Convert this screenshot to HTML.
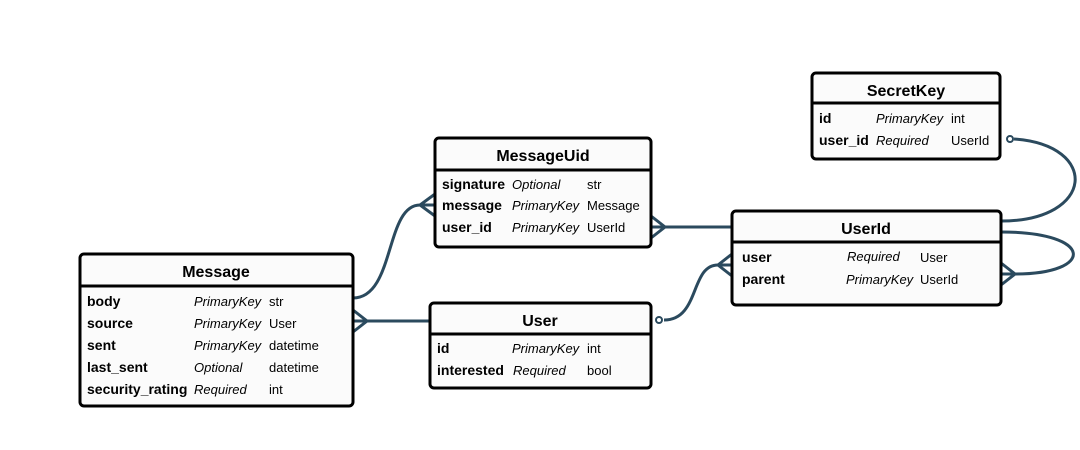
<!DOCTYPE html>
<html><head><meta charset="utf-8"><style>
html,body{margin:0;padding:0;background:#fff;}
svg{display:block;font-family:"Liberation Sans",sans-serif;}
.b{fill:#fbfbfb;stroke:#000;stroke-width:3;}
.h{font-weight:bold;font-size:16px;text-anchor:middle;fill:#000;}
.f{font-weight:bold;font-size:14px;fill:#000;}
.k{font-style:italic;font-size:13px;fill:#000;}
.t{font-size:13px;fill:#000;}
.c{fill:none;stroke:#2b4a5e;stroke-width:3;}
.d{stroke:#000;stroke-width:3;}
</style></head><body>
<svg width="1080" height="450" viewBox="0 0 1080 450">
<!-- connectors -->
<path class="c" d="M353 298 C395 298 385 205 420 205 H435"/>
<path class="c" d="M435 194 L420 205 L435 216"/>
<path class="c" d="M353 321 H430"/>
<path class="c" d="M353 310 L367 321 L353 332"/>
<path class="c" d="M651 227 H732"/>
<path class="c" d="M651 216 L665 227 L651 238"/>
<path class="c" d="M664 320 C700 320 690 265 718 265 H732"/>
<path class="c" d="M732 254 L718 265 L732 276"/>
<circle cx="659" cy="320" r="3" fill="#fff" stroke="#2b4a5e" stroke-width="2"/>
<path class="c" d="M1014 139 C1100 145 1095 221 1001 221"/>
<circle cx="1010" cy="139" r="3" fill="#fff" stroke="#2b4a5e" stroke-width="2"/>
<path class="c" d="M1001 232 C1095 232 1095 274 1015 274 H1001"/>
<path class="c" d="M1001 263 L1015 274 L1001 285"/>

<!-- SecretKey -->
<rect class="b" x="812" y="73" width="188" height="86" rx="4"/>
<line class="d" x1="812" y1="103" x2="1000" y2="103"/>
<text class="h" x="906" y="96">SecretKey</text>
<text class="f" x="819" y="123">id</text><text class="k" x="876" y="123">PrimaryKey</text><text class="t" x="951" y="123">int</text>
<text class="f" x="819" y="145">user_id</text><text class="k" x="876" y="145">Required</text><text class="t" x="951" y="145">UserId</text>

<!-- MessageUid -->
<rect class="b" x="435" y="138" width="216" height="109" rx="4"/>
<line class="d" x1="435" y1="170" x2="651" y2="170"/>
<text class="h" x="543" y="161">MessageUid</text>
<text class="f" x="442" y="189">signature</text><text class="k" x="512" y="189">Optional</text><text class="t" x="587" y="189">str</text>
<text class="f" x="442" y="210">message</text><text class="k" x="512" y="210">PrimaryKey</text><text class="t" x="587" y="210">Message</text>
<text class="f" x="442" y="232">user_id</text><text class="k" x="512" y="232">PrimaryKey</text><text class="t" x="587" y="232">UserId</text>

<!-- UserId -->
<rect class="b" x="732" y="211" width="269" height="94" rx="4"/>
<line class="d" x1="732" y1="242" x2="1001" y2="242"/>
<text class="h" x="866" y="234">UserId</text>
<text class="f" x="742" y="262">user</text><text class="k" x="847" y="261">Required</text><text class="t" x="920" y="262">User</text>
<text class="f" x="742" y="284">parent</text><text class="k" x="846" y="284">PrimaryKey</text><text class="t" x="920" y="284">UserId</text>

<!-- Message -->
<rect class="b" x="80" y="254" width="273" height="152" rx="4"/>
<line class="d" x1="80" y1="286" x2="353" y2="286"/>
<text class="h" x="216" y="277">Message</text>
<text class="f" x="87" y="306">body</text><text class="k" x="194" y="306">PrimaryKey</text><text class="t" x="269" y="306">str</text>
<text class="f" x="87" y="328">source</text><text class="k" x="194" y="328">PrimaryKey</text><text class="t" x="269" y="328">User</text>
<text class="f" x="87" y="350">sent</text><text class="k" x="194" y="350">PrimaryKey</text><text class="t" x="269" y="350">datetime</text>
<text class="f" x="87" y="372">last_sent</text><text class="k" x="194" y="372">Optional</text><text class="t" x="269" y="372">datetime</text>
<text class="f" x="87" y="394">security_rating</text><text class="k" x="194" y="394">Required</text><text class="t" x="269" y="394">int</text>

<!-- User -->
<rect class="b" x="430" y="303" width="221" height="85" rx="4"/>
<line class="d" x1="430" y1="334" x2="651" y2="334"/>
<text class="h" x="540" y="326">User</text>
<text class="f" x="437" y="353">id</text><text class="k" x="512" y="353">PrimaryKey</text><text class="t" x="587" y="353">int</text>
<text class="f" x="437" y="375">interested</text><text class="k" x="513" y="375">Required</text><text class="t" x="587" y="375">bool</text>
</svg>
</body></html>
